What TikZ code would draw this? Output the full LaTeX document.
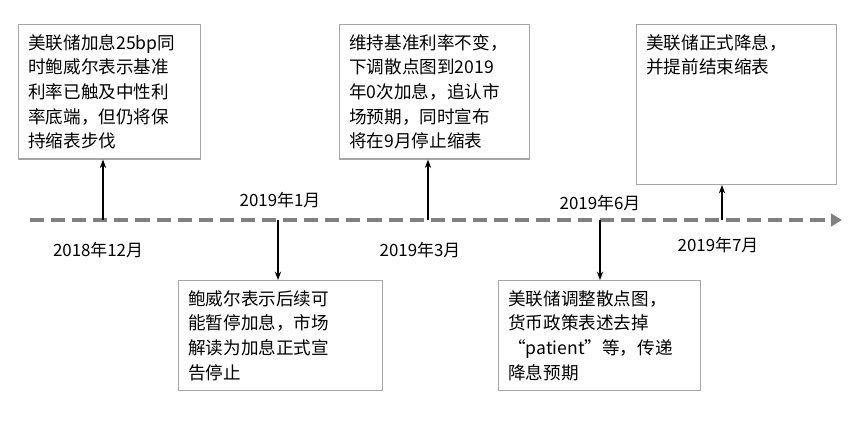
\documentclass[tikz,border=0pt]{standalone}
\usepackage{fontspec}
\setmainfont{Noto Sans CJK SC}
\usetikzlibrary{arrows.meta, positioning}

\tikzset{
    eventbox/.style={draw=gray!70, line width=0.8pt, align=left, anchor=north west,
        inner sep=7pt, font=\fontsize{12.5}{17.5}\selectfont},
    datelabel/.style={font=\fontsize{12}{14}\selectfont},
    tick/.style={-{Stealth[length=6pt]}, thick}
}

\begin{document}
\begin{tikzpicture}[x=0.025cm, y=-0.025cm, >=Latex]
\useasboundingbox (0,0) rectangle (861,434);

% timeline
\coordinate (tstart) at (30,220);
\coordinate (tend) at (842,220);
\draw[gray, line width=2.5pt, dash pattern=on 10pt off 5pt, -{Triangle[length=8pt,width=9pt]}] (tstart) -- (tend);

% events
\node[eventbox, text width=4.05cm] (dec) at (18,24)
    {美联储加息25bp同\\时鲍威尔表示基准\\利率已触及中性利\\率底端，但仍将保\\持缩表步伐};
\node[eventbox, text width=4.6cm] (jan) at (178,280)
    {鲍威尔表示后续可\\能暂停加息，市场\\解读为加息正式宣\\告停止};
\node[eventbox, text width=4.25cm] (mar) at (339,24)
    {维持基准利率不变，\\下调散点图到2019\\年0次加息，追认市\\场预期，同时宣布\\将在9月停止缩表};
\node[eventbox, text width=4.55cm] (jun) at (498,280)
    {美联储调整散点图，\\货币政策表述去掉\\“patient”等，传递\\降息预期};
\node[eventbox, text width=4.5cm] (jul) at (636,24)
    {美联储正式降息，\\并提前结束缩表\\[1.9cm]\mbox{}};

% ticks
\coordinate (pdec) at (103,220);
\coordinate (pjan) at (278,220);
\coordinate (pmar) at (428,220);
\coordinate (pjun) at (600,220);
\coordinate (pjul) at (722,220);
\draw[tick] (pdec) -- (pdec |- dec.south);
\draw[tick] (pjan) -- (pjan |- jan.north);
\draw[tick] (pmar) -- (pmar |- mar.south);
\draw[tick] (pjun) -- (pjun |- jun.north);
\draw[tick] (pjul) -- (pjul |- jul.south);

% dates
\node[datelabel] (ldec) at (98,250) {2018年12月};
\node[datelabel] (ljan) at (280,200) {2019年1月};
\node[datelabel] (lmar) at (420,250) {2019年3月};
\node[datelabel] (ljun) at (600,203) {2019年6月};
\node[datelabel] (ljul) at (718,245) {2019年7月};

\end{tikzpicture}
\end{document}
